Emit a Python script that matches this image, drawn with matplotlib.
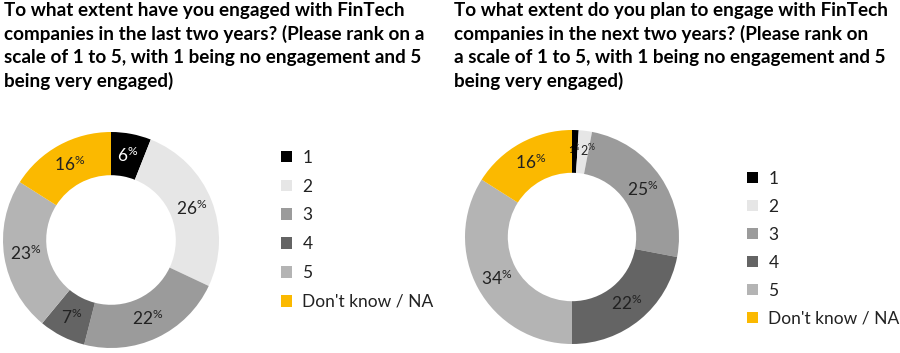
import matplotlib
matplotlib.use("Agg")
import numpy as np
import matplotlib.pyplot as plt
from matplotlib.patches import Patch

plt.rcParams["font.family"] = ["Lato", "DejaVu Sans"]
plt.rcParams["mathtext.default"] = "regular"

# data
categories = ["1", "2", "3", "4", "5", "Don't know / NA"]
last_two_years = [6, 26, 22, 7, 23, 16]
next_two_years = [1, 2, 25, 22, 34, 16]
colors = ["#000000", "#e6e6e6", "#9b9b9b", "#646464", "#b4b4b4", "#fbb900"]

title_left = ("To what extent have you engaged with FinTech\n"
              "companies in the last two years? (Please rank on a\n"
              "scale of 1 to 5, with 1 being no engagement and 5\n"
              "being very engaged)")
title_right = ("To what extent do you plan to engage with FinTech\n"
               "companies in the next two years? (Please rank on\n"
               "a scale of 1 to 5, with 1 being no engagement and 5\n"
               "being very engaged)")

W, H = 900, 353
fig = plt.figure(figsize=(W / 100, H / 100), dpi=100)


def donut(cx, cy, r, values, first_color):
    ax = fig.add_axes([(cx - r) / W, (H - cy - r) / H, 2 * r / W, 2 * r / H])
    wedges, _ = ax.pie(values, colors=colors, startangle=90, counterclock=False,
                       radius=1, wedgeprops=dict(width=0.4, linewidth=0))
    ax.set_xlim(-1, 1)
    ax.set_ylim(-1, 1)
    ax.set_aspect("equal")
    ax.axis("off")
    # percentage labels in the middle of the ring
    for i, (w, v) in enumerate(zip(wedges, values)):
        ang = np.deg2rad((w.theta1 + w.theta2) / 2)
        rr = 0.8 if v > 2 else 0.82
        x, y = rr * np.cos(ang), rr * np.sin(ang)
        col = first_color if i == 0 else "#222222"
        size = 12.5 if v > 2 else (9 if v == 2 else 7)
        if v == 2:
            x += 0.05
        ax.text(x, y, f"{v}$^{{\\%}}$", ha="center", va="center",
                fontsize=size, color=col)
    return ax


donut(111, 240, 108, last_two_years, "#ffffff")
donut(572, 237, 107, next_two_years, "#000000")

fig.text(4 / W, 1 - 2 / H, title_left, ha="left", va="top", fontsize=13.6,
         fontweight="bold", linespacing=1.4, color="#000000")
fig.text(454 / W, 1 - 2 / H, title_right, ha="left", va="top", fontsize=13.6,
         fontweight="bold", linespacing=1.4, color="#000000")

handles = [Patch(facecolor=c, edgecolor="none") for c in colors]
for x0, y0, sp in [(272, 141, 0.74), (738, 162, 0.69)]:
    fig.legend(handles, categories, loc="upper left",
               bbox_to_anchor=(x0 / W, 1 - y0 / H), frameon=False,
               fontsize=12.5, handlelength=0.65, handleheight=0.65,
               handletextpad=0.6, labelspacing=sp, borderpad=0,
               labelcolor="#222222")

fig.savefig("out.png", dpi=100)
